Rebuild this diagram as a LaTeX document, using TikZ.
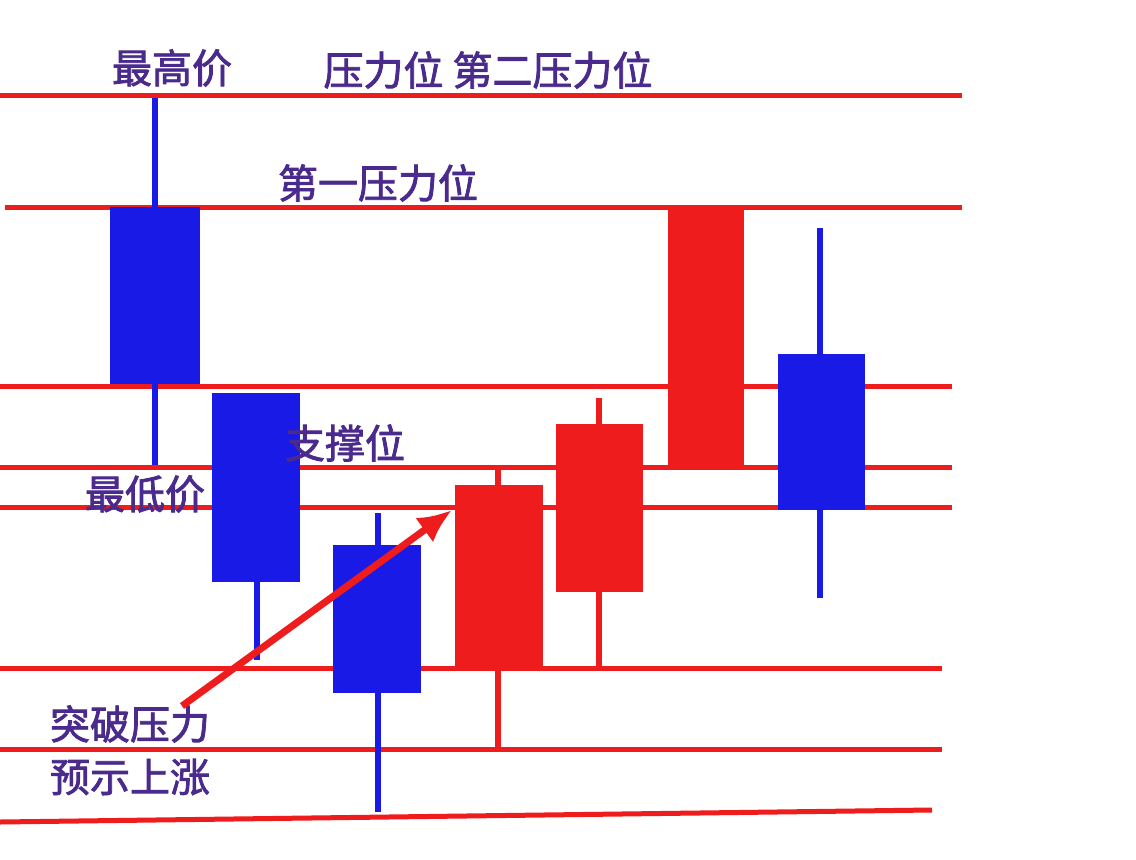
\documentclass[tikz,border=0pt]{standalone}
\usepackage{fontspec}
\usetikzlibrary{arrows.meta}
\newfontfamily\cjk[FakeBold=2]{Noto Sans CJK SC}
\definecolor{rd}{HTML}{EE1C1C}
\definecolor{bl}{HTML}{1A1AE6}
\definecolor{pu}{HTML}{4A2A8C}
\begin{document}
\begin{tikzpicture}[x=1pt,y=-1pt,
  lvl/.style={rd,line width=5pt},
  wick/.style={line width=5.5pt},
  lbl/.style={pu,font=\cjk\fontsize{40}{44}\selectfont,inner sep=0pt}]
\useasboundingbox[fill=white] (0,0) rectangle (1136,860);
% levels
\draw[lvl] (0,95) -- (962,95);
\draw[lvl] (5,207) -- (962,207);
\draw[lvl] (0,386) -- (952,386);
\draw[lvl] (0,467) -- (952,467);
\draw[lvl] (0,507) -- (952,507);
\draw[lvl] (0,668) -- (942,668);
\draw[lvl] (0,749) -- (942,749);
\draw[lvl] (0,822) -- (932,810);
% candles
\draw[wick,bl] (155,98) -- (155,465);
\fill[bl] (110,207) rectangle (200,384);
\draw[wick,bl] (257,582) -- (257,660);
\fill[bl] (212,393) rectangle (300,582);
\draw[wick,bl] (378,513) -- (378,812);
\fill[bl] (333,545) rectangle (421,693);
\draw[wick,rd] (498,468) -- (498,749);
\fill[rd] (455,485) rectangle (543,668);
\draw[wick,rd] (599,398) -- (599,668);
\fill[rd] (556,424) rectangle (643,592);
\fill[rd] (668,207) rectangle (744,467);
\draw[wick,bl] (820,228) -- (820,598);
\fill[bl] (778,354) rectangle (865,510);
% labels
\node[lbl] (hi) at (172,68) {最高价};
\node[lbl] (p2) at (488,70) {压力位 第二压力位};
\node[lbl] (p1) at (378,183) {第一压力位};
\node[lbl] (s) at (345,443) {支撑位};
\node[lbl] (lo) at (145,494) {最低价};
\node[lbl] (b1) at (130,724) {突破压力};
\node[lbl] (b2) at (130,777) {预示上涨};
\coordinate (a1) at (182,706);
\coordinate (a2) at (452,510);
\draw[rd,line width=7pt,-{Latex[length=34pt,width=30pt]}] (a1) -- (a2);
\end{tikzpicture}
\end{document}
